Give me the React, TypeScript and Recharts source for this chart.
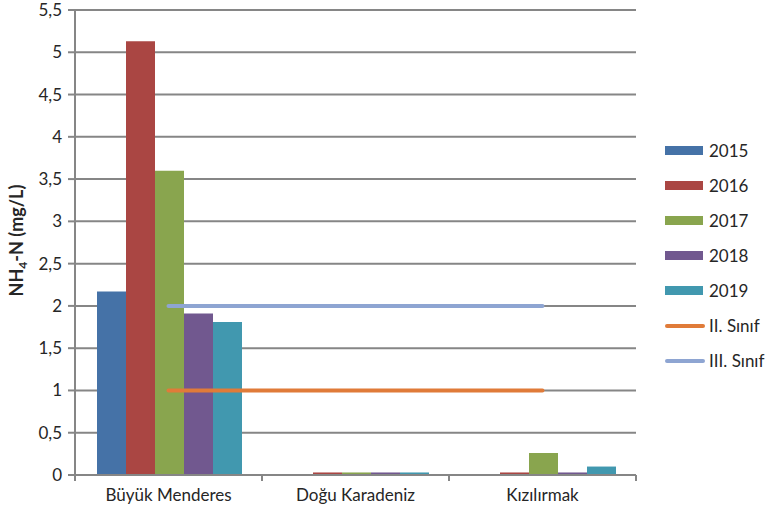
import React from "react";
import { ComposedChart, Bar, Line, XAxis, YAxis, CartesianGrid } from "recharts";

const categories = ["Büyük Menderes", "Doğu Karadeniz", "Kızılırmak"];
const y2015 = [2.17, 0, 0];
const y2016 = [5.13, 0.03, 0.03];
const y2017 = [3.6, 0.03, 0.26];
const y2018 = [1.91, 0.03, 0.03];
const y2019 = [1.81, 0.03, 0.1];
const sinif2 = [1, 1, 1];
const sinif3 = [2, 2, 2];
const yTicks = [0, 0.5, 1, 1.5, 2, 2.5, 3, 3.5, 4, 4.5, 5, 5.5];

const barSeries = [
  { key: "y2015", name: "2015", color: "#4572A7" },
  { key: "y2016", name: "2016", color: "#AA4643" },
  { key: "y2017", name: "2017", color: "#89A54E" },
  { key: "y2018", name: "2018", color: "#71588F" },
  { key: "y2019", name: "2019", color: "#4198AF" },
];
const lineSeries = [
  { key: "sinif2", name: "II. Sınıf", color: "#E07B39" },
  { key: "sinif3", name: "III. Sınıf", color: "#8EA5D2" },
];

const data = categories.map((c, i) => ({
  name: c,
  y2015: y2015[i],
  y2016: y2016[i],
  y2017: y2017[i],
  y2018: y2018[i],
  y2019: y2019[i],
  sinif2: sinif2[i],
  sinif3: sinif3[i],
}));

const FONT = "Lato, 'Liberation Sans', sans-serif";
const AXIS = "#868686";
const TEXT = "#262626";

const XTick = (props: any) => {
  const { x, y, payload, index } = props;
  const off = payload && payload.offset ? payload.offset : 0;
  const top = y - 8;
  return (
    <g>
      <line x1={x - off} x2={x - off} y1={top} y2={top + 6} stroke={AXIS} strokeWidth={2} />
      {index === categories.length - 1 && (
        <line x1={x + off} x2={x + off} y1={top} y2={top + 6} stroke={AXIS} strokeWidth={2} />
      )}
      <text x={x} y={y + 18} textAnchor="middle" fill={TEXT} fontSize={17} fontFamily={FONT}>
        {payload.value}
      </text>
    </g>
  );
};

const YLabel = (props: any) => {
  const vb = props.viewBox || {};
  const cx = (vb.x || 0) + 23;
  const cy = (vb.y || 0) + (vb.height || 0) / 2 - 2;
  return (
    <text
      x={cx}
      y={cy}
      transform={`rotate(-90 ${cx} ${cy})`}
      textAnchor="middle"
      fontWeight="bold"
      fontSize={18}
      fontFamily={FONT}
      fill={TEXT}
    >
      <tspan>NH</tspan>
      <tspan fontSize={12} dy={4}>4</tspan>
      <tspan dy={-4}>-N (mg/L)</tspan>
    </text>
  );
};

export default function App() {
  return (
    <div style={{ position: "absolute", left: 0, top: 0, width: 770, height: 514, background: "#fff" }}>
      <ComposedChart
        width={770}
        height={514}
        data={data}
        margin={{ top: 10, right: 134, bottom: 0, left: 0 }}
        barCategoryGap={22}
        barGap={0}
      >
        <CartesianGrid vertical={false} stroke={AXIS} strokeWidth={2} />
        <XAxis
          dataKey="name"
          height={39}
          tickLine={false}
          axisLine={{ stroke: AXIS, strokeWidth: 2 }}
          tick={<XTick />}
          interval={0}
        />
        <YAxis
          width={75}
          domain={[0, 5.5]}
          ticks={yTicks}
          interval={0}
          tickSize={7}
          tickMargin={6}
          tickLine={{ stroke: AXIS, strokeWidth: 2 }}
          axisLine={{ stroke: AXIS, strokeWidth: 2 }}
          tick={{ fill: TEXT, fontSize: 17, fontFamily: FONT }}
          tickFormatter={(v: number) => String(v).replace(".", ",")}
          label={<YLabel />}
        />
        {barSeries.map((s) => (
          <Bar key={s.key} dataKey={s.key} name={s.name} fill={s.color} isAnimationActive={false} />
        ))}
        {lineSeries.map((s) => (
          <Line
            key={s.key}
            dataKey={s.key}
            name={s.name}
            stroke={s.color}
            strokeWidth={4}
            strokeLinecap="round"
            dot={false}
            activeDot={false}
            isAnimationActive={false}
          />
        ))}
      </ComposedChart>
      <div style={{ position: "absolute", left: 665, top: 133, fontFamily: FONT, fontSize: 17, color: TEXT }}>
        {barSeries.map((s) => (
          <div key={s.key} style={{ display: "flex", alignItems: "center", height: 35 }}>
            <div style={{ width: 38, height: 9, background: s.color, marginRight: 6 }} />
            <span>{s.name}</span>
          </div>
        ))}
        {lineSeries.map((s) => (
          <div key={s.key} style={{ display: "flex", alignItems: "center", height: 35 }}>
            <div style={{ width: 40, height: 4, borderRadius: 2, background: s.color, marginRight: 4 }} />
            <span>{s.name}</span>
          </div>
        ))}
      </div>
    </div>
  );
}
